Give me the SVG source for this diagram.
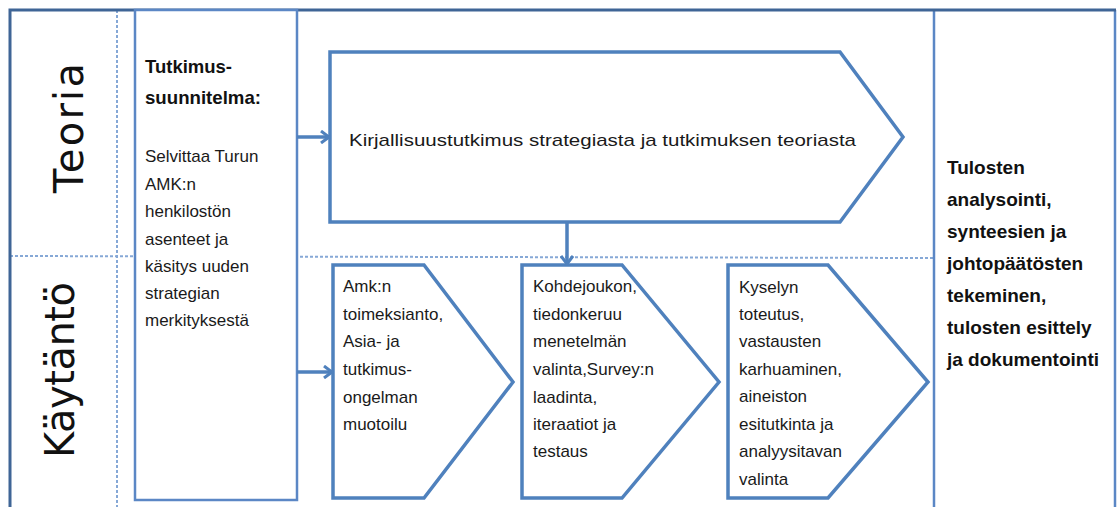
<svg xmlns="http://www.w3.org/2000/svg" width="1120" height="507" viewBox="0 0 1120 507">
<style>
.frame{fill:none;stroke:#3f6596;stroke-width:3}
.col{fill:none;stroke:#5b87c5;stroke-width:2.5}
.dot{fill:none;stroke:#86a8d6;stroke-width:2;stroke-dasharray:3 2}
.shape{fill:#fff;stroke:#4f81bd;stroke-width:3.5;stroke-linejoin:miter}
.box{fill:#fff;stroke:#5b87c5;stroke-width:2.5}
.conn{fill:none;stroke:#4f81bd;stroke-width:3.5}
.t{font-family:"Liberation Sans",Arial,sans-serif;font-size:17px;fill:#1a1a1a}
.b{font-family:"Liberation Sans",Arial,sans-serif;font-weight:bold;fill:#111}
.lane{font-family:"DejaVu Sans",Verdana,sans-serif;font-size:40px;fill:#111}
</style>
<defs>
<marker id="arr" viewBox="0 0 12 14" refX="10" refY="7" markerWidth="12" markerHeight="14" markerUnits="userSpaceOnUse" orient="auto">
<path d="M2,1 L10,7 L2,13" fill="none" stroke="#4f81bd" stroke-width="3"/>
</marker>
</defs>
<rect width="1120" height="507" fill="#fff"/>
<g id="frame">
<line class="dot" x1="117" y1="10" x2="117" y2="507"/>
<line class="dot" x1="10" y1="256" x2="934" y2="258"/>
<line class="col" x1="934" y1="10" x2="934" y2="507"/>
<line class="col" x1="1115" y1="10" x2="1115" y2="507"/>
<path class="frame" d="M10,507 L10,10 L1116,10"/>
</g>
<g id="lane-teoria">
<text class="lane" transform="translate(83,128) rotate(-90)" text-anchor="middle" textLength="130">Teoria</text>
</g>
<g id="lane-kaytanto">
<text class="lane" transform="translate(74,370) rotate(-90)" text-anchor="middle" textLength="176">Käytäntö</text>
</g>
<g id="tutkimussuunnitelma">
<rect class="box" x="135" y="10" width="162" height="490"/>
<text class="b" font-size="19" x="145" y="73" textLength="87" lengthAdjust="spacingAndGlyphs">Tutkimus-</text>
<text class="b" font-size="19" x="145" y="104" textLength="116" lengthAdjust="spacingAndGlyphs">suunnitelma:</text>
<text class="t" x="145"><tspan x="145" y="162">Selvittaa Turun</tspan><tspan x="145" y="190">AMK:n</tspan><tspan x="145" y="217">henkilostön</tspan><tspan x="145" y="245">asenteet ja</tspan><tspan x="145" y="272">käsitys uuden</tspan><tspan x="145" y="299">strategian</tspan><tspan x="145" y="326">merkityksestä</tspan></text>
</g>
<g id="kirjallisuustutkimus">
<path class="shape" d="M330,52 L840,52 L903,137 L840,222 L330,222 Z"/>
<text class="t" font-size="21" x="349" y="146" textLength="507" lengthAdjust="spacingAndGlyphs">Kirjallisuustutkimus strategiasta ja tutkimuksen teoriasta</text>
</g>
<g id="step1">
<path class="shape" d="M333,265 L424,265 L513,382 L424,498 L333,498 Z"/>
<text class="t"><tspan x="343" y="292">Amk:n</tspan><tspan x="343" y="320">toimeksianto,</tspan><tspan x="343" y="347">Asia- ja</tspan><tspan x="343" y="375">tutkimus-</tspan><tspan x="343" y="403">ongelman</tspan><tspan x="343" y="430">muotoilu</tspan></text>
</g>
<g id="step2">
<path class="shape" d="M522,265 L622,265 L719,382 L622,498 L522,498 Z"/>
<text class="t"><tspan x="533" y="292">Kohdejoukon,</tspan><tspan x="533" y="320">tiedonkeruu</tspan><tspan x="533" y="347">menetelmän</tspan><tspan x="533" y="375">valinta,Survey:n</tspan><tspan x="533" y="403">laadinta,</tspan><tspan x="533" y="430">iteraatiot ja</tspan><tspan x="533" y="457">testaus</tspan></text>
</g>
<g id="step3">
<path class="shape" d="M728,265 L828,265 L928,382 L828,498 L728,498 Z"/>
<text class="t"><tspan x="739" y="293">Kyselyn</tspan><tspan x="739" y="320">toteutus,</tspan><tspan x="739" y="347">vastausten</tspan><tspan x="739" y="375">karhuaminen,</tspan><tspan x="739" y="402">aineiston</tspan><tspan x="739" y="430">esitutkinta ja</tspan><tspan x="739" y="457">analyysitavan</tspan><tspan x="739" y="485">valinta</tspan></text>
</g>
<g id="tulokset">
<text class="b" font-size="19"><tspan x="947" y="174">Tulosten</tspan><tspan x="947" y="206">analysointi,</tspan><tspan x="947" y="238">synteesien ja</tspan><tspan x="947" y="270">johtopäätösten</tspan><tspan x="947" y="302">tekeminen,</tspan><tspan x="947" y="334">tulosten esittely</tspan><tspan x="947" y="366">ja dokumentointi</tspan></text>
</g>
<g id="connectors">
<line class="conn" x1="297" y1="137" x2="329" y2="137" marker-end="url(#arr)"/>
<line class="conn" x1="297" y1="372" x2="332" y2="372" marker-end="url(#arr)"/>
<line class="conn" x1="567" y1="222" x2="567" y2="264" marker-end="url(#arr)"/>
</g>
</svg>
